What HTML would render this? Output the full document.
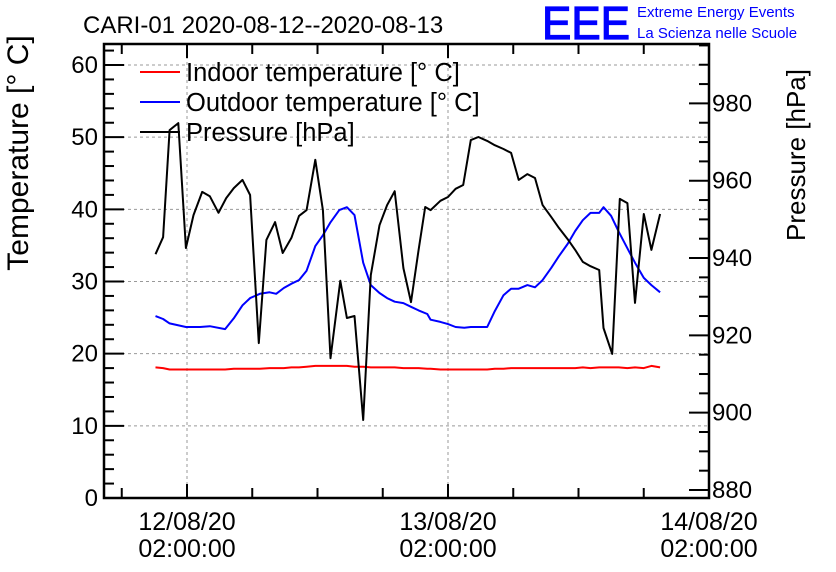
<!DOCTYPE html>
<html><head><meta charset="utf-8"><style>
html,body{margin:0;padding:0;background:#fff;}
svg{display:block;font-family:"Liberation Sans",sans-serif;}
</style></head><body>
<svg id="chart" width="836" height="572" viewBox="0 0 836 572">
<rect x="0" y="0" width="836" height="572" fill="#fff"/>
<text x="83" y="33" font-size="24" fill="#000">CARI-01 2020-08-12--2020-08-13</text>
<text x="542" y="39" font-size="46" fill="#0000ff" stroke="#0000ff" stroke-width="1.2" textLength="88" lengthAdjust="spacingAndGlyphs">EEE</text>
<text x="637" y="17" font-size="15" fill="#0000ff">Extreme Energy Events</text>
<text x="637" y="38" font-size="15" fill="#0000ff">La Scienza nelle Scuole</text>
<text transform="translate(28,153) rotate(-90)" text-anchor="middle" font-size="30">Temperature [° C]</text>
<text transform="translate(805,155) rotate(-90)" text-anchor="middle" font-size="26">Pressure [hPa]</text>
<g id="grid"></g><g id="series"></g><g id="axes"></g>
<g>
<line x1="140" y1="72" x2="180" y2="72" stroke="#ff0000" stroke-width="2"/>
<text x="186" y="81" font-size="25.5">Indoor temperature [° C]</text>
<line x1="140" y1="102" x2="180" y2="102" stroke="#0000ff" stroke-width="2"/>
<text x="186" y="111" font-size="25.5">Outdoor temperature [° C]</text>
<line x1="140" y1="132" x2="180" y2="132" stroke="#000" stroke-width="2"/>
<text x="186" y="141" font-size="25.5">Pressure [hPa]</text>
</g>
</svg>
<script>
// hours since 12/08/20 02:00:00
const pressTimes=[-2.9,-2.2,-1.6,-0.8,-0.1,0.6,1.4,2.1,2.9,3.6,4.3,5.1,5.8,6.6,7.3,8.1,8.8,9.6,10.3,11.0,11.8,12.5,13.2,14.1,14.7,15.4,16.2,16.9,17.7,18.4,19.1,19.9,20.6,21.3,21.9,22.4,23.3,24.0,24.7,25.4,26.1,26.8,27.6,28.3,29.1,29.8,30.5,31.3,32.0,32.7,33.5,34.2,35.0,35.7,36.4,37.1,37.9,38.3,39.1,39.8,40.5,41.2,42.0,42.7,43.5];
const pressure=[941.0,945.4,973.1,974.9,942.6,951.1,957.1,956.0,951.7,955.5,958.1,960.2,956.3,918.0,944.7,949.3,941.3,945.2,950.9,952.4,965.4,952.4,914.1,934.1,924.5,925.0,898.1,935.6,948.5,953.7,957.3,937.4,928.6,942.1,953.2,952.4,954.8,955.8,957.9,958.9,970.5,971.3,970.3,969.2,968.2,967.2,960.2,961.7,960.7,953.7,950.6,947.8,944.9,942.1,939.0,937.9,936.9,921.9,915.2,955.3,954.2,928.4,951.4,942.1,951.4];
const tempTimes=[-2.9,-2.2,-1.6,-0.1,1.2,2.1,3.5,4.3,5.1,5.8,6.7,7.6,8.2,8.9,9.6,10.3,11.0,11.8,12.5,13.2,14.0,14.7,15.4,16.2,16.9,17.7,18.4,19.1,19.9,20.6,21.3,22.1,22.4,23.3,24.0,24.7,25.5,26.1,26.8,27.6,28.3,29.1,29.8,30.5,31.3,32.0,32.7,33.5,34.2,35.0,35.7,36.4,37.1,37.9,38.3,39.0,39.7,40.5,41.2,42.0,42.7,43.5];
const outdoor=[25.2,24.8,24.2,23.7,23.7,23.8,23.4,24.9,26.7,27.7,28.3,28.5,28.3,29.1,29.7,30.2,31.5,34.9,36.4,38.2,39.9,40.3,39.2,32.6,29.5,28.4,27.7,27.2,27.0,26.5,26.0,25.5,24.7,24.4,24.1,23.7,23.6,23.7,23.7,23.7,25.9,28.1,29.0,29.0,29.5,29.2,30.2,31.9,33.5,35.2,37.0,38.5,39.5,39.5,40.3,39.1,36.9,34.6,32.6,30.5,29.5,28.5];
const indoor=[18.1,18.0,17.8,17.8,17.8,17.8,17.8,17.9,17.9,17.9,17.9,18.0,18.0,18.0,18.1,18.1,18.2,18.3,18.3,18.3,18.3,18.3,18.2,18.2,18.1,18.1,18.1,18.1,18.0,18.0,18.0,17.9,17.9,17.8,17.8,17.8,17.8,17.8,17.8,17.8,17.9,17.9,18.0,18.0,18.0,18.0,18.0,18.0,18.0,18.0,18.0,18.1,18.0,18.1,18.1,18.1,18.1,18.0,18.1,18.0,18.3,18.1];
const tempTicks=[0,10,20,30,40,50,60];
const pressTicks=[880,900,920,940,960,980];
const dayTicks=[0,24,48];
const dayLabels=["12/08/20","13/08/20","14/08/20"];

const L=104,R=709,T=44,B=498;
const X=h=>187+h*261/24;
const YT=t=>498-t*(433/60);
const YP=p=>490-(p-880)*3.866;
const NS="http://www.w3.org/2000/svg";
function mk(parent,tag,attrs){const e=document.createElementNS(NS,tag);for(const k in attrs)e.setAttribute(k,attrs[k]);document.getElementById(parent).appendChild(e);return e;}

dayTicks.forEach(d=>{const x=X(d);if(x<R-1){const g=mk('grid','line',{x1:x,y1:T,x2:x,y2:B,stroke:'#999','stroke-dasharray':'3,3','stroke-width':1});

}});
tempTicks.forEach(t=>{const y=YT(t);if(t>0){const g=mk('grid','line',{x1:L,y1:y,x2:R,y2:y,stroke:'#999','stroke-dasharray':'3,3','stroke-width':1});

}});

function poly(xs,ys,col,name,fy){const pts=xs.map((h,i)=>X(h).toFixed(1)+','+fy(ys[i]).toFixed(1)).join(' ');
const p=mk('series','polyline',{points:pts,fill:'none',stroke:col,'stroke-width':2,'stroke-linejoin':'round'});

}
poly(tempTimes,indoor,'#ff0000','indoor-temperature-line',YT);
poly(tempTimes,outdoor,'#0000ff','outdoor-temperature-line',YT);
poly(pressTimes,pressure,'#000','pressure-line',YP);

const fr=mk('axes','rect',{x:L,y:T,width:R-L,height:B-T,fill:'none',stroke:'#000','stroke-width':2.5});


for(let t=0;t<=62;t+=2){const y=YT(t);const len=t%10===0?20:10;
mk('axes','line',{x1:L,y1:y,x2:L+len,y2:y,stroke:'#000','stroke-width':2});}
tempTicks.forEach(t=>{const e=mk('axes','text',{x:98,y:YT(t)+8,'text-anchor':'end','font-size':24});e.textContent=t;

});
for(let p=880;p<=995;p+=5){const y=YP(p);const len=p%20===0?20:10;
mk('axes','line',{x1:R-len,y1:y,x2:R,y2:y,stroke:'#000','stroke-width':2});}
pressTicks.forEach(p=>{const e=mk('axes','text',{x:712,y:YP(p)+8,'font-size':24});e.textContent=p;

});
for(let h=-6;h<=48;h+=6){const x=X(h);if(x<L||x>R)continue;const len=h%24===0?14:10;
mk('axes','line',{x1:x,y1:B,x2:x,y2:B-len,stroke:'#000','stroke-width':2});
mk('axes','line',{x1:x,y1:T,x2:x,y2:T+len,stroke:'#000','stroke-width':2});}
dayTicks.forEach((d,i)=>{const a=mk('axes','text',{x:X(d),y:530,'text-anchor':'middle','font-size':25});a.textContent=dayLabels[i];


const b=mk('axes','text',{x:X(d),y:557,'text-anchor':'middle','font-size':25});b.textContent='02:00:00';

});
</script>
</body></html>
